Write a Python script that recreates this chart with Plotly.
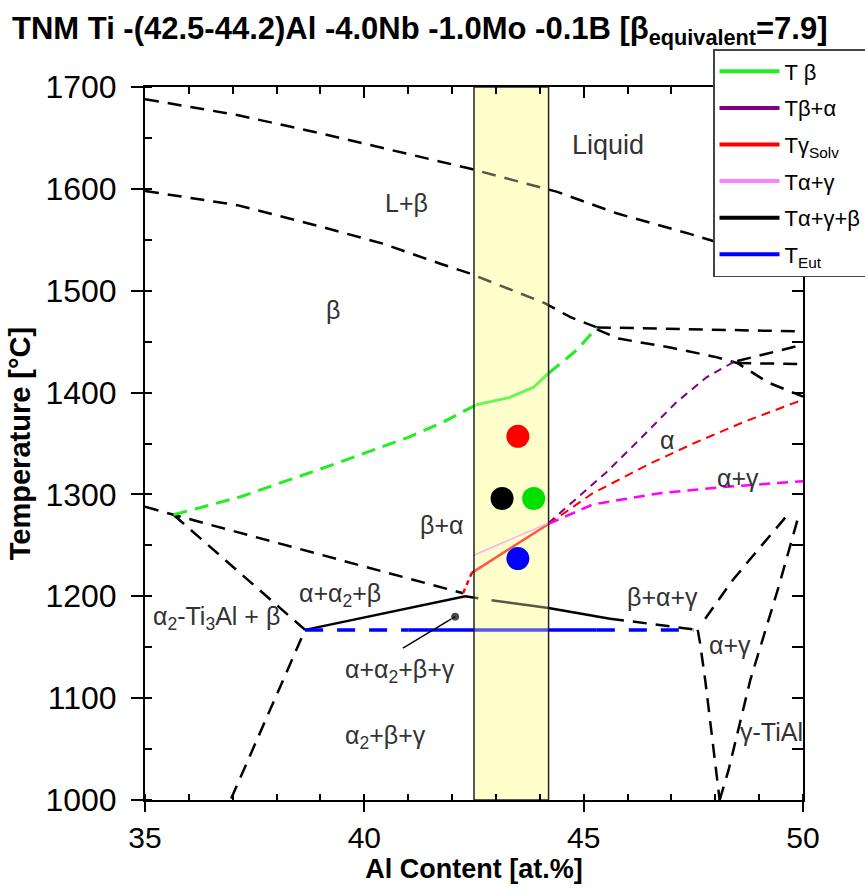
import plotly.graph_objects as go

FONT = "Liberation Sans, Arial, sans-serif"

# Alloy composition window (at.% Al)
band_lo, band_hi = 42.5, 44.2
t_min, t_max = 1000, 1700

# Liquidus / solidus
liq_x = [35, 37.1, 39.0, 40.4, 41.7, 42.4, 44.4, 45.75, 47.4, 48.0, 50]
liq_y = [1688, 1672.5, 1654.5, 1640, 1627, 1620, 1597, 1576, 1556, 1548, 1522]
sol_x = [35, 37.1, 39.0, 40.4, 41.7, 42.4, 44.1, 44.7, 45.3]
sol_y = [1598, 1584, 1563, 1546.5, 1527, 1517, 1488, 1474, 1464]

# Peritectic and high-Al boundaries
peri_x = [45.3, 50]
peri_y = [1464, 1460]
ab_x = [45.3, 45.8, 47.0, 48.0, 48.5, 49.2, 50]
ab_y = [1462, 1453, 1444, 1435, 1429, 1410, 1396]
tp1_x = [48.5, 50]
tp1_y = [1431, 1447]
tp2_x = [48.5, 50]
tp2_y = [1429, 1428]

# T_beta transus (dashed outside window, solid inside)
tb_x1 = [35.65, 37.2, 39.4, 41.0, 41.8, 42.55]
tb_y1 = [1280, 1298, 1331, 1356, 1371, 1388]
tb_x2 = [42.55, 43.3, 43.85, 44.2]
tb_y2 = [1388, 1395, 1405, 1419]
tb_x3 = [44.2, 44.85, 45.3]
tb_y3 = [1419, 1442, 1464]

# T_beta+alpha
tba_x = [44.2, 44.6, 45.5, 46.3, 47.1, 47.8, 48.5]
tba_y = [1272, 1287, 1321, 1355, 1390, 1415, 1432]

# T_gamma solvus
tgs_x0 = [42.25, 42.45]
tgs_y0 = [1203, 1223]
tgs_x1 = [42.45, 43.3, 44.2]
tgs_y1 = [1223, 1246, 1271]
tgs_x2 = [44.2, 45.2, 46.5, 47.5, 48.7, 50]
tgs_y2 = [1271, 1301, 1330, 1350, 1372, 1393]

# T_alpha+gamma
tag_x1 = [42.48, 44.2]
tag_y1 = [1240, 1272]
tag_x2 = [44.2, 45.2, 46.7, 48.1, 50]
tag_y2 = [1271, 1290, 1301, 1307, 1313]

# Low-temperature boundaries
bab_x = [35, 35.65, 42.25]
bab_y = [1288, 1280, 1203]
a2b_x = [35.65, 38.65, 36.95]
a2b_y = [1280, 1167, 1000]
aa2b_x = [38.65, 42.3, 42.6]
aa2b_y = [1167, 1200, 1198]
tagb_x1 = [42.9, 44.2, 45.6]
tagb_y1 = [1196, 1188.5, 1178]
tagb_x2 = [45.6, 47.6]
tagb_y2 = [1178, 1167]
agl_x = [47.6, 47.65, 47.77, 47.95, 48.1]
agl_y = [1167, 1155, 1118, 1052, 1000]
agu_x = [47.77, 48.4, 49.0, 49.63]
agu_y = [1178, 1216, 1247, 1279]
gr_x = [48.1, 48.3, 48.8, 49.45, 49.9]
gr_y = [1000, 1029, 1118, 1210, 1279]

# Eutectoid temperature
eut_t = 1167
eut_dash1 = [38.65, 41.0]
eut_solid = [41.0, 45.3]
eut_dash2 = [45.3, 47.5]

# Measured transformation temperatures
pt_x = [43.5, 43.14, 43.86, 43.5]
pt_y = [1357, 1296, 1296, 1237]
pt_c = ["#FF0000", "#000000", "#00E000", "#0000FF"]

# Four-phase pointer
ptr_x = [40.88, 42.07]
ptr_y = [1149, 1180]

# Phase field labels
lab_x = [45.55, 40.95, 39.29, 46.9, 48.52, 41.75, 39.45, 36.62, 46.79, 48.33, 40.81, 40.49, 49.29]
lab_y = [1643, 1586, 1481, 1353, 1316, 1270, 1201, 1179, 1199, 1152, 1127, 1062, 1067]
lab_t = ["Liquid", "L+β", "β", "α", "α+γ", "β+α", "α+α<sub>2</sub>+β",
         "α<sub>2</sub>-Ti<sub>3</sub>Al + β", "β+α+γ", "α+γ",
         "α+α<sub>2</sub>+β+γ", "α<sub>2</sub>+β+γ", "γ-TiAl"]
lab_s = [27, 25, 25, 25, 25, 25, 25, 25, 25, 25, 25, 25, 25]

# Legend entries
leg_names = ["T β", "Tβ+α", "Tγ<sub>Solv</sub>", "Tα+γ", "Tα+γ+β", "T<sub>Eut</sub>"]
leg_cols = ["#22EE22", "#800080", "#FF0000", "#FF80FF", "#000000", "#0000FF"]

fig = go.Figure()

def band_trace(fill, lw):
    return go.Scatter(x=[band_lo, band_hi, band_hi, band_lo, band_lo],
                      y=[t_min, t_min, t_max, t_max, t_min],
                      fill="toself", fillcolor=fill, mode="lines",
                      line=dict(color="#222222", width=lw),
                      hoverinfo="skip", showlegend=False)

fig.add_trace(band_trace("#FFFFCC", 0))

def line(x, y, color, width, dash="solid"):
    fig.add_trace(go.Scatter(x=x, y=y, mode="lines",
                             line=dict(color=color, width=width, dash=dash),
                             hoverinfo="skip", showlegend=False))

BD = "14px,9px"
line(liq_x, liq_y, "black", 2.5, BD)
line(sol_x, sol_y, "black", 2.5, BD)
line(peri_x, peri_y, "black", 2.5, BD)
line(ab_x, ab_y, "black", 2.5, BD)
line(tp1_x, tp1_y, "black", 2.5, BD)
line(tp2_x, tp2_y, "black", 2.5, BD)
line(bab_x, bab_y, "black", 2.5, BD)
line(a2b_x, a2b_y, "black", 2.5, BD)
line(agl_x, agl_y, "black", 2.5, BD)
line(agu_x, agu_y, "black", 2.5, BD)
line(gr_x, gr_y, "black", 2.5, BD)
line(aa2b_x, aa2b_y, "black", 2.5)
line(tagb_x1, tagb_y1, "black", 2.5)
line(tagb_x2, tagb_y2, "black", 2.5, BD)

line(tb_x1, tb_y1, "#22EE22", 3, "14px,8px")
line(tb_x2, tb_y2, "#22EE22", 3)
line(tb_x3, tb_y3, "#22EE22", 3, "14px,8px")
line(tba_x, tba_y, "#800080", 2, "8px,6px")
line(tgs_x0, tgs_y0, "#FF0000", 2.5, "5px,4px")
line(tgs_x1, tgs_y1, "#FF0000", 2.5)
line(tgs_x2, tgs_y2, "#FF0000", 2, "9px,6px")
line(tag_x1, tag_y1, "#FF80FF", 1.5)
line(tag_x2, tag_y2, "#FF00FF", 2.5, "11px,7px")

line(eut_dash1, [eut_t, eut_t], "#0000FF", 3.5, "18px,14px")
line(eut_solid, [eut_t, eut_t], "#0000FF", 3.5)
line(eut_dash2, [eut_t, eut_t], "#0000FF", 3.5, "18px,14px")

fig.add_trace(go.Scatter(x=ptr_x, y=ptr_y, mode="lines+markers",
                         line=dict(color="black", width=1.5),
                         marker=dict(size=[0, 9], color="black"),
                         hoverinfo="skip", showlegend=False))

# translucent overlay of the composition window
fig.add_trace(band_trace("rgba(255,255,204,0.34)", 1.5))

fig.add_trace(go.Scatter(x=pt_x, y=pt_y, mode="markers",
                         marker=dict(size=23, color=pt_c, line=dict(width=0)),
                         hoverinfo="skip", showlegend=False))

for i, (name, col) in enumerate(zip(leg_names, leg_cols)):
    fig.add_trace(go.Scatter(x=[None], y=[None], mode="lines", name=name,
                             legendgroup=f"g{i}",
                             line=dict(color=col, width=4)))

# secondary frame axes (top / right)
fig.add_trace(go.Scatter(x=[None], y=[None], xaxis="x2", yaxis="y2",
                         showlegend=False, hoverinfo="skip"))

for x, y, t, s in zip(lab_x, lab_y, lab_t, lab_s):
    fig.add_annotation(x=x, y=y, text=t, showarrow=False,
                       font=dict(family=FONT, size=s, color="#333333"))

fig.update_layout(
    width=865, height=889,
    margin=dict(l=145, r=62, t=87, b=89, autoexpand=False),
    paper_bgcolor="white", plot_bgcolor="white",
    font=dict(family=FONT, color="black"),
    title=dict(text="<b>TNM Ti -(42.5-44.2)Al -4.0Nb -1.0Mo -0.1B [β<sub>equivalent</sub>=7.9]</b>",
               x=12 / 865, xref="container", xanchor="left",
               y=1 - 28 / 889, yref="container", yanchor="middle",
               font=dict(family=FONT, size=31, color="black")),
    xaxis=dict(range=[35, 50], tick0=35, dtick=5, showline=True, linewidth=2,
               linecolor="black", ticks="outside", ticklen=10, tickwidth=2,
               tickcolor="black", showgrid=False, zeroline=False,
               tickfont=dict(size=30, family=FONT),
               minor=dict(dtick=1, ticks="inside", ticklen=6, tickwidth=1.5, tickcolor="black"),
               title=dict(text="<b>Al Content [at.%]</b>", standoff=0,
                          font=dict(size=27, family=FONT))),
    yaxis=dict(range=[1000, 1700], tick0=1000, dtick=100, showline=True, linewidth=2,
               linecolor="black", ticks="outside", ticklen=12, tickwidth=2,
               tickcolor="black", showgrid=False, zeroline=False,
               tickfont=dict(size=32, family=FONT), ticklabelstandoff=8,
               minor=dict(dtick=50, ticks="inside", ticklen=7, tickwidth=1.5, tickcolor="black"),
               title=dict(text="<b>Temperature [°C]</b>", standoff=6,
                          font=dict(size=29, family=FONT))),
    xaxis2=dict(range=[35, 50], overlaying="x", side="top", anchor="y2",
                tick0=35, dtick=5, showline=True, linewidth=2, linecolor="black",
                ticks="inside", ticklen=11, tickwidth=2, tickcolor="black",
                showticklabels=False, showgrid=False, zeroline=False,
                minor=dict(dtick=1, ticks="inside", ticklen=7, tickwidth=1.5, tickcolor="black")),
    yaxis2=dict(range=[1000, 1700], overlaying="y", side="right", anchor="x2",
                tick0=1000, dtick=50, showline=True, linewidth=2, linecolor="black",
                ticks="inside", ticklen=11, tickwidth=1.5, tickcolor="black",
                showticklabels=False, showgrid=False, zeroline=False),
    legend=dict(x=(713 - 145) / 658, y=(800 - 49) / 713, xanchor="left", yanchor="top",
                bgcolor="white", bordercolor="#444444", borderwidth=1.5,
                font=dict(family=FONT, size=22, color="black"),
                itemwidth=60, tracegroupgap=5),
    showlegend=True,
)

fig.write_html("out.html")
